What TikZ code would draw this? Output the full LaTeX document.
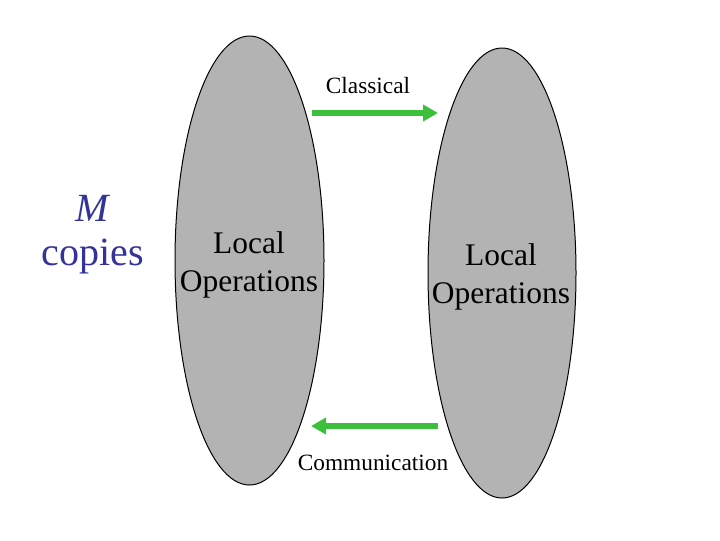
\documentclass[tikz,border=0pt]{standalone}
\usepackage{fontspec}
\setmainfont{Liberation Serif}
\usetikzlibrary{arrows.meta}
\definecolor{ellgray}{RGB}{179,179,179}
\definecolor{arrgreen}{RGB}{60,192,60}
\definecolor{copyblue}{RGB}{51,51,153}
\begin{document}
\begin{tikzpicture}[x=0.75pt,y=-0.75pt,
  garrow/.style={draw=arrgreen,line width=4.5pt,-{Triangle[length=11.25pt,width=12pt]}},
  lbl/.style={anchor=base,inner sep=0pt,font=\fontsize{17.5pt}{21pt}\selectfont},
  loc/.style={anchor=base,inner sep=0pt,align=center,font=\fontsize{23.6pt}{28.5pt}\selectfont}]
\useasboundingbox (0,0) rectangle (720,540);
\fill[white] (0,0) rectangle (720,540);
\draw[fill=ellgray,line width=0.75pt] (249.5,260.5) ellipse [x radius=74.5, y radius=224.5];
\draw[fill=ellgray,line width=0.75pt] (502,273) ellipse [x radius=74, y radius=225];
\node[loc] (locL) at (249,291) {Local\\Operations};
\node[loc] (locR) at (501,303) {Local\\Operations};
\node[lbl] (classical) at (368,93) {Classical};
\node[lbl] (comm) at (373,470) {Communication};
\node[anchor=base,inner sep=0pt,align=center,text=copyblue,font=\fontsize{30pt}{32.5pt}\selectfont] (copies) at (93,265) {\textit{M}\\copies};
\coordinate (a1s) at (312,113);
\coordinate (a1e) at (438,113);
\coordinate (a2s) at (438,426);
\coordinate (a2e) at (311,426);
\draw[garrow] (a1s) -- (a1e);
\draw[garrow] (a2s) -- (a2e);
\end{tikzpicture}
\end{document}
